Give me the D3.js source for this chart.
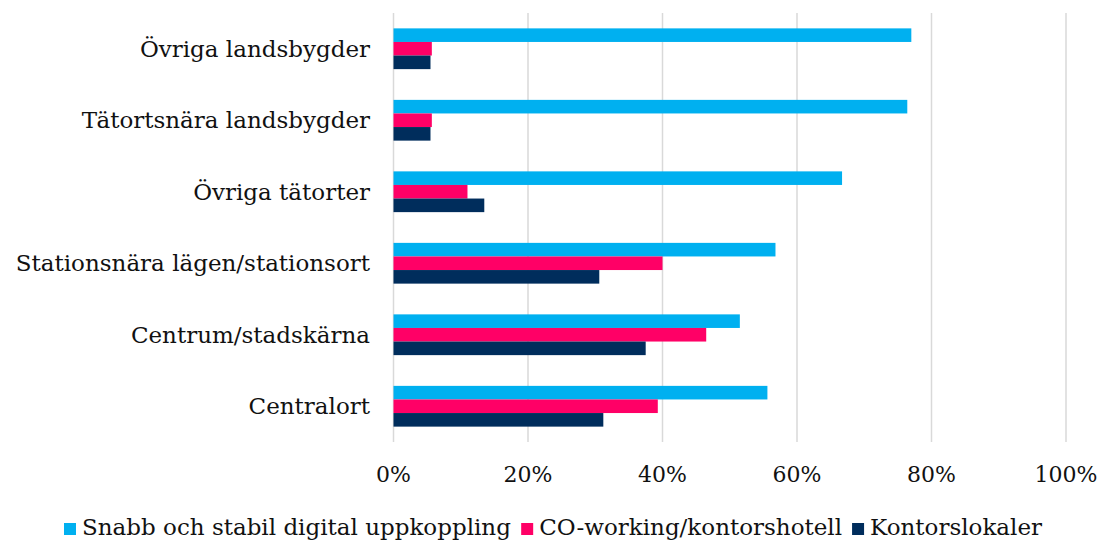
<!DOCTYPE html>
<html>
<head>
<meta charset="utf-8">
<script src="https://cdn.jsdelivr.net/npm/d3@7"></script>
<style>
  body { margin: 0; background: #fff; }
  svg { display: block; }
  .cat { font-family: "DejaVu Serif", serif; font-size: 23px; fill: #111; }
  .tick-label { font-family: "DejaVu Serif", serif; font-size: 22px; fill: #111; }
  .legend text { font-family: "DejaVu Serif", serif; font-size: 23px; fill: #111; }
</style>
</head>
<body>
<div id="chart"></div>
<script>
var categories = ['Övriga landsbygder', 'Tätortsnära landsbygder', 'Övriga tätorter',
	'Stationsnära lägen/stationsort', 'Centrum/stadskärna', 'Centralort'];
var seriesNames = ['Snabb och stabil digital uppkoppling', 'CO-working/kontorshotell', 'Kontorslokaler'];
var digital = [0.770, 0.764, 0.667, 0.568, 0.515, 0.556];
var coworking = [0.057, 0.057, 0.110, 0.400, 0.465, 0.393];
var kontor = [0.055, 0.055, 0.135, 0.306, 0.375, 0.312];
var xTicks = [0, 0.2, 0.4, 0.6, 0.8, 1.0];
var colors = ['#00B0F0', '#FF0066', '#002D5C'];

var width = 1102, height = 543;
var plotLeft = 393.5, plotRight = 1066, plotTop = 13, plotBottom = 442;

var svg = d3.select('#chart')
	.append('svg')
	.attr('width', width)
	.attr('height', height);

var x = d3.scaleLinear().domain([0, 1]).range([plotLeft, plotRight]);
var y = d3.scaleBand().domain(categories).range([plotTop, plotBottom]).paddingInner(0.43).paddingOuter(0.215);
var ySub = d3.scaleBand().domain(seriesNames).range([0, y.bandwidth()]);

var values = [digital, coworking, kontor];

// gridlines
svg.selectAll('line.grid')
	.data(xTicks)
	.enter()
	.append('line')
	.attr('class', 'grid')
	.attr('x1', function(d) { return x(d); })
	.attr('x2', function(d) { return x(d); })
	.attr('y1', plotTop)
	.attr('y2', plotBottom)
	.style('stroke', '#d9d9d9')
	.style('stroke-width', 1.5);

// bars
seriesNames.forEach(function(name, s) {
	svg.selectAll('rect.s' + s)
		.data(values[s])
		.enter()
		.append('rect')
		.attr('class', 's' + s)
		.attr('x', x(0))
		.attr('y', function(d, i) { return y(categories[i]) + ySub(name); })
		.attr('width', function(d) { return x(d) - x(0); })
		.attr('height', ySub.bandwidth())
		.style('fill', colors[s]);
});

// category labels
svg.selectAll('text.cat')
	.data(categories)
	.enter()
	.append('text')
	.attr('class', 'cat')
	.attr('x', 370)
	.attr('y', function(d) { return y(d) + y.bandwidth() / 2; })
	.attr('dy', '0.35em')
	.attr('text-anchor', 'end')
	.text(function(d) { return d; });

// x tick labels
svg.selectAll('text.tick-label')
	.data(xTicks)
	.enter()
	.append('text')
	.attr('class', 'tick-label')
	.attr('x', function(d) { return x(d); })
	.attr('y', 482)
	.attr('text-anchor', 'middle')
	.text(d3.format('.0%'));

// legend
var legend = svg.append('g').attr('class', 'legend');
var items = legend.selectAll('g.item')
	.data(seriesNames)
	.enter()
	.append('g')
	.attr('class', 'item');
items.append('rect')
	.attr('width', 12)
	.attr('height', 12)
	.attr('y', -12)
	.style('fill', function(d, i) { return colors[i]; });
items.append('text')
	.attr('x', 18)
	.text(function(d) { return d; });

var pos = 0, gap = 10;
items.each(function() {
	var w = this.getBBox().width;
	d3.select(this).attr('transform', 'translate(' + pos + ',0)');
	pos += w + gap;
});
legend.attr('transform', 'translate(' + ((width - (pos - gap)) / 2 + 2) + ',535)');
</script>
</body>
</html>
